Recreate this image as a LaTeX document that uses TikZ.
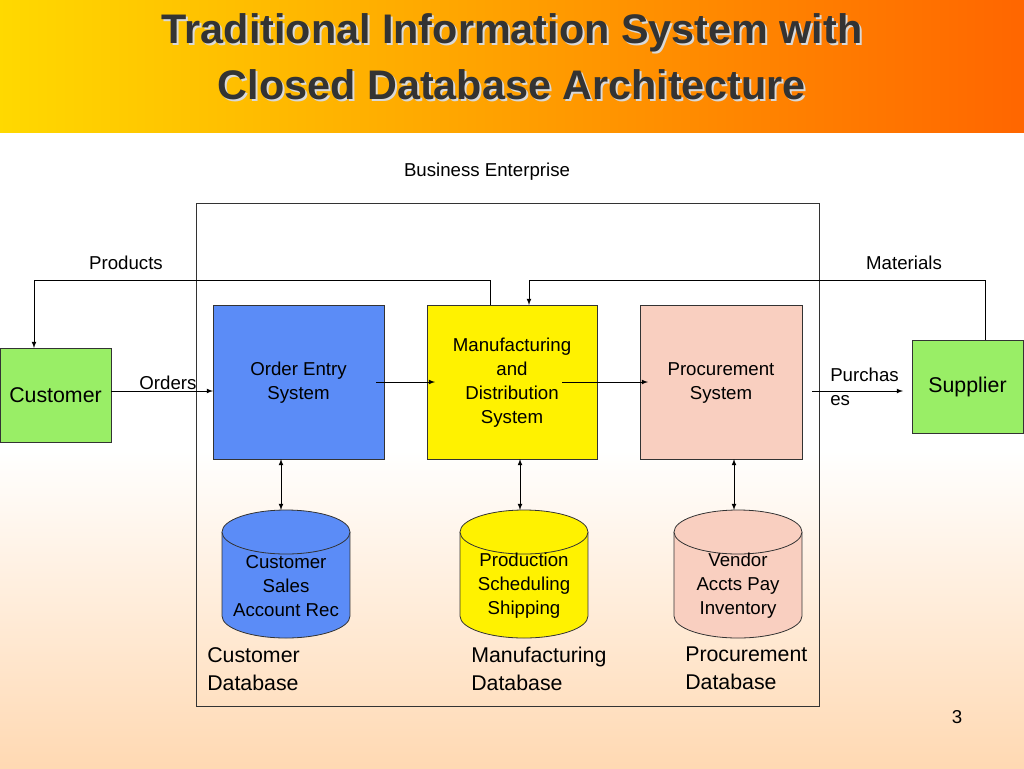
\documentclass[tikz,border=0pt]{standalone}
\usepackage{fontspec}
\setmainfont{Liberation Sans}
\definecolor{cblue}{RGB}{91,140,247}
\definecolor{cpink}{RGB}{249,207,192}
\definecolor{cgreen}{RGB}{153,238,102}
\begin{document}
\begin{tikzpicture}[x=0.75pt,y=-0.75pt,
 box/.style={draw=black!80,line width=0.6pt,inner sep=0pt,align=center,font=\fontsize{14}{18}\selectfont},
 txt/.style={font=\fontsize{14}{18}\selectfont,align=center,inner sep=0pt},
 dbl/.style={font=\fontsize{16}{21}\selectfont,align=left,inner sep=0pt,anchor=north west},
 arr/.style={-latex,line width=0.6pt},
 darr/.style={latex-latex,line width=0.6pt}]
\useasboundingbox (0,0) rectangle (1024,768);
\shade[top color=white,bottom color=orange!30] (0,450) rectangle (1024,768);
\shade[left color=yellow!70!orange,right color=orange!80!red] (0,0) rectangle (1024,132);
\foreach \y/\t in {33/Traditional Information System with,85/Closed Database Architecture}{
 \node[font=\fontsize{31}{34}\selectfont\bfseries,text=white!70!gray] at (514,\y+2) {\t};
 \node[font=\fontsize{31}{34}\selectfont\bfseries,text=black!80] at (512,\y) {\t};}
\node[txt] (be) at (487,172) {Business Enterprise};
\draw[line width=0.6pt,black!80] (196,203) rectangle (819,706);
\node[box,minimum width=128.25pt,minimum height=115.5pt,fill=cblue] (oe) at (298.5,382) {};
\node[txt] at (298.5,383) {Order Entry\\System};
\node[box,minimum width=127.5pt,minimum height=115.5pt,fill=yellow] (md) at (512,382) {};
\node[txt] at (512,383) {Manufacturing\\and\\Distribution\\System};
\node[box,minimum width=121.5pt,minimum height=115.5pt,fill=cpink] (pr) at (721,382) {};
\node[txt] at (721,383) {Procurement\\System};
\node[box,minimum width=83.25pt,minimum height=70.5pt,fill=cgreen,font=\fontsize{16}{20}\selectfont] (cu) at (55.5,395) {Customer};
\node[box,minimum width=83.25pt,minimum height=69.75pt,fill=cgreen,font=\fontsize{16}{20}\selectfont] (su) at (967.5,387) {Supplier};
\foreach \n/\x/\c/\t in {c1/286/cblue/{Customer\\Sales\\Account Rec},c2/524/yellow/{Production\\Scheduling\\Shipping},c3/738/cpink/{Vendor\\Accts Pay\\Inventory}}{
 \fill[\c] (\x-64,532) rectangle (\x+64,616);
 \fill[\c] (\x,616) ellipse[x radius=64,y radius=22];
 \draw[line width=0.6pt,black!80] (\x-64,532) -- (\x-64,616) arc[start angle=180,end angle=0,x radius=64,y radius=22] -- (\x+64,532);
 \draw[line width=0.6pt,black!80,fill=\c] (\x,532) ellipse[x radius=64,y radius=22];
 \node[txt] (\n) at (\x,586) {\t};}
\draw[darr] (281,459) -- (281,510);
\draw[darr] (520,459) -- (520,510);
\draw[darr] (734,459) -- (734,510);
\draw[arr] (cu.east |- 0,391) -- (213,391);
\node[txt] at (168,383) {Orders};
\draw[arr] (376,382) -- (435,382);
\draw[arr] (562,382) -- (648,382);
\draw[arr] (812,391) -- (903,391);
\node[txt,align=left,anchor=west] at (830,387) {Purchas\\es};
\draw[arr] (490,305) -- (490,280) -- (34,280) -- (34,348);
\draw[arr] (985,340) -- (985,280) -- (529,280) -- (529,305);
\node[txt] at (126,263) {Products};
\node[txt] at (904,263) {Materials};
\node[dbl] at (207,647) {Customer\\Database};
\node[dbl] at (471,647) {Manufacturing\\Database};
\node[dbl] at (685,647) {Procurement\\Database};
\node[txt] at (957,717) {3};
\end{tikzpicture}
\end{document}
